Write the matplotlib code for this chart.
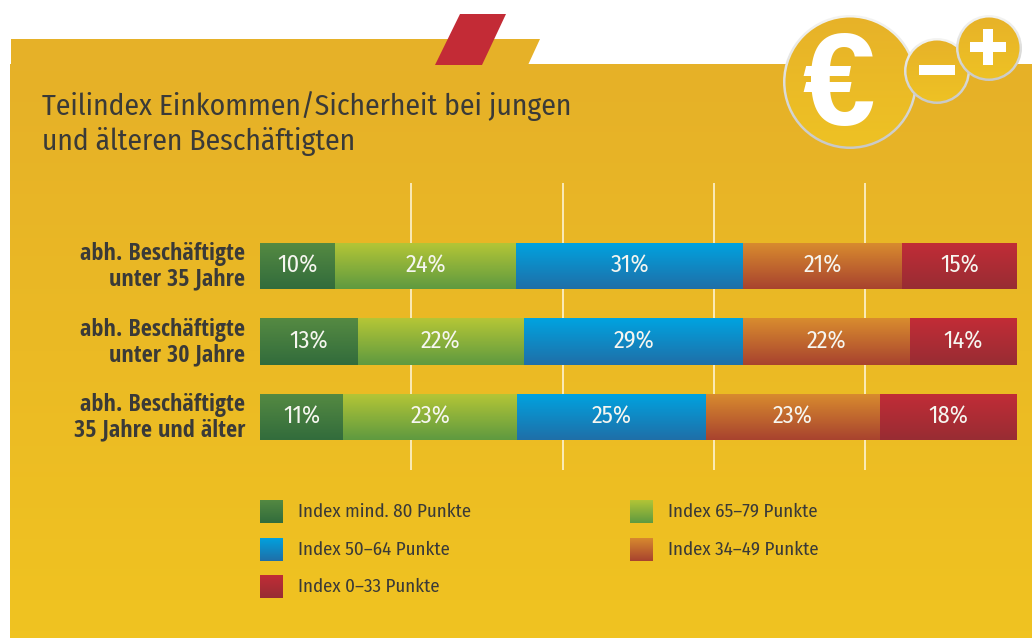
"""Teilindex Einkommen/Sicherheit: gestapelte Balken auf gelbem Panel."""
import matplotlib

matplotlib.use("Agg")
import matplotlib.pyplot as plt
import numpy as np
from matplotlib import font_manager as fm
from matplotlib.colors import LinearSegmentedColormap
from matplotlib.patches import Circle, Polygon, Rectangle
from matplotlib.transforms import ScaledTranslation

W, H = 1032, 638

CATEGORIES = ["abh. Beschäftigte\nunter 35 Jahre",
              "abh. Beschäftigte\nunter 30 Jahre",
              "abh. Beschäftigte\n35 Jahre und älter"]
SERIES = ["Index mind. 80 Punkte", "Index 65–79 Punkte", "Index 50–64 Punkte",
          "Index 34–49 Punkte", "Index 0–33 Punkte"]
# Breite der Segmente wie gezeichnet (erste Zeile summiert im Original nicht auf 101)
WIDTHS = [[9.9, 24.0, 30.0, 21.0, 15.1],
          [12.9, 22.0, 29.0, 22.0, 14.1],
          [11.0, 23.0, 24.9, 23.0, 18.1]]
LABELS = [["10%", "24%", "31%", "21%", "15%"],
          ["13%", "22%", "29%", "22%", "14%"],
          ["11%", "23%", "25%", "23%", "18%"]]
GRID_TICKS = [20, 40, 60, 80]

# Verlauf oben -> unten
GRADS = [("#558a42", "#326c3c"), ("#b5c636", "#5f9a40"), ("#00a3e0", "#1f6fa8"),
         ("#d98c2e", "#a8432f"), ("#c22d37", "#982c33")]
TEXT = "#3a3a38"

# Schmale Schriften, falls vorhanden: fett und normal getrennt
installed = {f.name for f in fm.fontManager.ttflist}
BOLD_FONT = [n for n in ["Open Sans Condensed", "Roboto Condensed", "Lato", "DejaVu Sans"] if n in installed]
THIN_FONT = [n for n in ["Fira Sans Condensed", "Roboto Condensed", "Lato", "DejaVu Sans"] if n in installed]
plt.rcParams["font.family"] = THIN_FONT


def gradient(ax, patch, top, bottom, extent, zorder):
    """Vertikaler Verlauf, auf den Patch zugeschnitten."""
    cmap = LinearSegmentedColormap.from_list("g", [top, bottom])
    img = ax.imshow(np.linspace(0, 1, 64).reshape(-1, 1), cmap=cmap, extent=extent,
                    aspect="auto", origin="upper", zorder=zorder, interpolation="bilinear")
    img.set_clip_path(patch)


fig = plt.figure(figsize=(W / 100, H / 100), dpi=100, facecolor="white")

# Hintergrund in Pixelkoordinaten
bg = fig.add_axes([0, 0, 1, 1])
bg.axis("off")

panel = Polygon([(10, 64), (W, 64), (W, H), (10, H)], closed=True, fc="none", ec="none")
bg.add_patch(panel)
gradient(bg, panel, "#e6b128", "#f0c321", (10, W, H, 64), 1)
bg.add_patch(Polygon([(11, 39), (540, 39), (528, 65), (11, 65)], closed=True, fc="#e6b128", ec="none", zorder=1))
bg.add_patch(Polygon([(460, 14), (506, 14), (482, 65), (435, 65)], closed=True, fc="#c32b36", ec="none", zorder=2))

# Münzen
for cx, cy, r, z in [(850, 82, 67, 3), (937, 71, 33, 5), (989, 48, 33, 7)]:
    ring = Circle((cx, cy), r, fc="none", ec="none", zorder=z)
    bg.add_patch(ring)
    gradient(bg, ring, "#f4f4f2", "#c9c9c7", (cx - r, cx + r, cy + r, cy - r), z)
    coin = Circle((cx, cy), r - 2.5, fc="none", ec="none", zorder=z)
    bg.add_patch(coin)
    gradient(bg, coin, "#e7b229", "#eec224", (cx - r, cx + r, cy + r, cy - r), z)
bg.text(839, 90, "€", color="white", fontsize=94, fontweight="bold", ha="center", va="center",
        family=["Liberation Sans", "DejaVu Sans"], zorder=4)
bg.add_patch(Rectangle((919, 65), 36, 10, fc="white", zorder=6))
bg.add_patch(Rectangle((970, 42), 36, 10, fc="white", zorder=8))
bg.add_patch(Rectangle((983, 29), 10, 36, fc="white", zorder=8))

bg.text(42, 106, "Teilindex Einkommen/Sicherheit bei jungen", color=TEXT, fontsize=21.3,
        ha="left", va="center", zorder=9)
bg.text(42, 142, "und älteren Beschäftigten", color=TEXT, fontsize=21.3,
        ha="left", va="center", zorder=9)

# Legende
LEGEND_POS = [(260, 500), (630, 500), (260, 538), (630, 538), (260, 575)]
for (x, y), name, (top, bottom) in zip(LEGEND_POS, SERIES, GRADS):
    sw = Rectangle((x, y), 23, 23.5, fc="none", ec="none")
    bg.add_patch(sw)
    gradient(bg, sw, top, bottom, (x, x + 23, y + 23.5, y), 3)
    bg.text(x + 38, y + 11.5, name, color=TEXT, fontsize=13.6, ha="left", va="center")

bg.set_xlim(0, W)
bg.set_ylim(H, 0)

# Balken
ax = fig.add_axes([260 / W, 1 - 470 / H, 756.5 / W, 287 / H])
ax.patch.set_alpha(0)
for s in ax.spines.values():
    s.set_visible(False)

y_pos = np.arange(len(CATEGORIES))
height = 0.615
left = np.zeros(len(CATEGORIES))
widths = np.array(WIDTHS)
for j, (top, bottom) in enumerate(GRADS):
    bars = ax.barh(y_pos, widths[:, j], height, left=left, color="none", zorder=3)
    for i, bar in enumerate(bars):
        gradient(ax, bar, top, bottom,
                 (left[i], left[i] + widths[i, j], y_pos[i] + height / 2, y_pos[i] - height / 2), 3)
        ax.text(left[i] + widths[i, j] / 2, y_pos[i], LABELS[i][j], color="#f6f6f0", fontsize=17.5,
                ha="center", va="center", zorder=4)
    left += widths[:, j]

ax.set_xlim(0, 100)
ax.set_ylim(2.7, -1.1)
ax.set_xticks(GRID_TICKS)
ax.tick_params(axis="x", length=0, labelbottom=False)
ax.xaxis.grid(True, color="#fff8e0", lw=1.1, zorder=1)
ax.set_axisbelow(True)
ax.set_yticks(y_pos)
ax.set_yticklabels(CATEGORIES, fontsize=17.5, fontweight="bold", color=TEXT, linespacing=1.08, family=BOLD_FONT)
ax.tick_params(axis="y", length=0, pad=10.5)
# Beschriftung sitzt im Original etwas höher als die Balkenmitte
up = ScaledTranslation(0, 3 / 100, fig.dpi_scale_trans)
for lab in ax.get_yticklabels():
    lab.set_transform(lab.get_transform() + up)

fig.savefig("out.png", dpi=100)
